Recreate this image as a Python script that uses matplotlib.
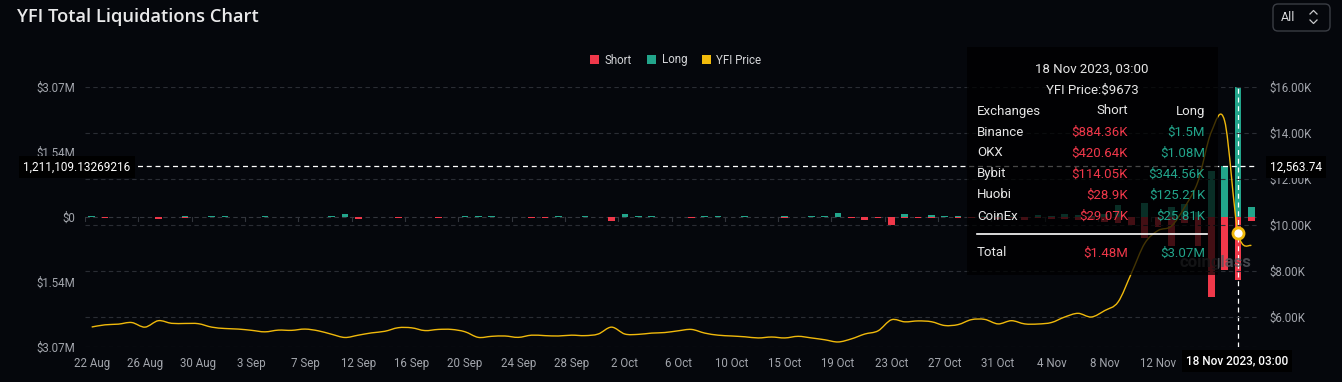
import matplotlib
matplotlib.use("Agg")
import matplotlib.pyplot as plt
from matplotlib.patches import Patch, FancyBboxPatch, Rectangle, PathPatch
from matplotlib.path import Path
import numpy as np

# ---------------- data ----------------
long_m = [0.012, 0.004, 0.010, 0.010, 0.003, 0.006, 0.008, 0.035, 0.010, 0.025,
          0.012, 0.004, 0.004, 0.020, 0.008, 0.004, 0.008, 0.010, 0.025, 0.070,
          0.004, 0.008, 0.004, 0.008, 0.004, 0.010, 0.008, 0.004, 0.015, 0.025,
          0.020, 0.004, 0.010, 0.004, 0.004, 0.020, 0.004, 0.015, 0.004, 0.008,
          0.070, 0.015, 0.030, 0.004, 0.004, 0.010, 0.025, 0.025, 0.004, 0.015,
          0.004, 0.004, 0.025, 0.010, 0.025, 0.025, 0.090, 0.004, 0.004, 0.004,
          0.010, 0.070, 0.010, 0.040, 0.015, 0.020, 0.010, 0.030, 0.015, 0.020,
          0.010, 0.040, 0.020, 0.060, 0.050, 0.030, 0.080, 0.280, 0.010, 0.320,
          0.010, 0.240, 0.300, 0.120, 1.090, 1.210, 3.070, 0.230]
short_m = [0.004, 0.025, 0.004, 0.004, 0.006, 0.050, 0.004, 0.030, 0.008, 0.004,
           0.004, 0.006, 0.008, 0.010, 0.004, 0.008, 0.004, 0.006, 0.004, 0.004,
           0.050, 0.006, 0.004, 0.012, 0.004, 0.004, 0.012, 0.004, 0.006, 0.004,
           0.004, 0.006, 0.004, 0.012, 0.015, 0.004, 0.008, 0.004, 0.006, 0.090,
           0.006, 0.004, 0.010, 0.004, 0.006, 0.012, 0.004, 0.004, 0.006, 0.004,
           0.008, 0.006, 0.020, 0.008, 0.004, 0.006, 0.008, 0.015, 0.060, 0.020,
           0.190, 0.020, 0.035, 0.020, 0.010, 0.020, 0.030, 0.015, 0.040, 0.020,
           0.060, 0.030, 0.050, 0.040, 0.060, 0.070, 0.120, 0.150, 0.190, 0.500,
           0.230, 0.680, 0.150, 0.680, 1.900, 1.240, 1.480, 0.090]
price = [5565, 5660, 5690, 5760, 5560, 5840, 5725, 5720, 5710, 5560,
         5500, 5475, 5420, 5355, 5430, 5420, 5475, 5400, 5250, 5110,
         5210, 5310, 5380, 5535, 5530, 5410, 5460, 5460, 5360, 5115,
         5160, 5175, 5115, 5210, 5190, 5175, 5210, 5190, 5260, 5560,
         5260, 5245, 5300, 5325, 5400, 5460, 5300, 5210, 5175, 5140,
         5090, 5130, 5090, 5160, 5090, 5010, 4915, 5050, 5260, 5400,
         5880, 5790, 5830, 5795, 5630, 5670, 5885, 5896, 5700, 5840,
         5700, 5696, 5760, 6000, 6160, 6000, 6280, 6650, 7900, 9200,
         9760, 9950, 10780, 11900, 14050, 14520, 9673, 9100]

tick_labels = ['22 Aug', '26 Aug', '30 Aug', '3 Sep', '7 Sep', '12 Sep', '16 Sep',
               '20 Sep', '24 Sep', '28 Sep', '2 Oct', '6 Oct', '10 Oct', '15 Oct',
               '19 Oct', '23 Oct', '27 Oct', '31 Oct', '4 Nov', '8 Nov', '12 Nov']
tick_idx = list(range(0, 84, 4))
hover_idx = 86
hover_label = '18 Nov 2023, 03:00'
hover_left_val = 1.21110913269216   # $M
hover_left_text = '1,211,109.13269216'
hover_right_text = '12,563.74'

left_ticks = [3.07, 1.535, 0, -1.535, -3.07]
left_labels = ['$3.07M', '$1.54M', '$0', '$1.54M', '$3.07M']
right_ticks = [6000, 8000, 10000, 12000, 14000, 16000]
right_labels = ['$6.00K', '$8.00K', '$10.00K', '$12.00K', '$14.00K', '$16.00K']

exchanges = ['Binance', 'OKX', 'Bybit', 'Huobi', 'CoinEx']
ex_short = ['$884.36K', '$420.64K', '$114.05K', '$28.9K', '$29.07K']
ex_long = ['$1.5M', '$1.08M', '$344.56K', '$125.21K', '$25.81K']
total_short = '$1.48M'
total_long = '$3.07M'
hover_price = 'YFI Price:$9673'

# ---------------- style ----------------
BG = '#05070c'
RED = '#f0384a'
TEAL = '#22a58b'
GOLD = '#f0b90b'
AXIS_TXT = '#a3a6ad'
GRID = '#2a2d34'
FONT = 'Roboto'

W, H = 1342, 382
fig = plt.figure(figsize=(W / 100, H / 100), dpi=100, facecolor=BG)

L, R, T, B = 85, 1258, 87, 347
ax = fig.add_axes([L / W, (H - B) / H, (R - L) / W, (B - T) / H])
ax.set_facecolor(BG)
x = np.arange(len(long_m))
ax.bar(x, long_m, width=0.5, color=TEAL, zorder=3)
ax.bar(x, [-s for s in short_m], width=0.5, color=RED, zorder=3)
ax.set_xlim(-0.5, len(long_m) - 0.5)
ax.set_ylim(-3.07, 3.07)
ax.set_yticks(left_ticks)
ax.set_yticklabels(left_labels)
ax.set_xticks(tick_idx)
ax.set_xticklabels(tick_labels)
ax.tick_params(axis='both', length=0, colors=AXIS_TXT, labelsize=8.3)
ax.tick_params(axis='y', pad=7)
ax.tick_params(axis='x', pad=7)
for lab in ax.get_xticklabels() + ax.get_yticklabels():
    lab.set_fontfamily(FONT)
for s in ax.spines.values():
    s.set_visible(False)
ax.axhline(0, color='#33363d', lw=0.8, ls=(0, (4, 3)), zorder=2)
ax.axhline(-3.07, color=GRID, lw=0.8, ls=(0, (4, 3)), zorder=1)
for ti in tick_idx:
    ax.plot([ti - 0.5, ti - 0.5], [0, -0.1], color='#33363d', lw=0.8, zorder=2)
ax.axhline(hover_left_val, color='white', lw=0.9, ls=(0, (4, 3)), zorder=6)
ax.axvline(hover_idx, color='white', lw=0.9, ls=(0, (4, 3)), zorder=6)

ax2 = ax.twinx()
ax2.set_ylim(4696, 16000)
for v in right_ticks:
    ax2.axhline(v, color=GRID, lw=0.8, ls=(0, (4, 3)), zorder=1)

# smooth (Catmull-Rom as cubic Bezier) price line, like a smoothed line series
px = np.asarray(x, dtype=float)
py = np.asarray(price, dtype=float)
n = len(px)
verts = [(px[0], py[0])]
codes = [Path.MOVETO]
for i in range(n - 1):
    i0, i3 = max(i - 1, 0), min(i + 2, n - 1)
    c1 = (px[i] + (px[i + 1] - px[i0]) / 6, py[i] + (py[i + 1] - py[i0]) / 6)
    c2 = (px[i + 1] - (px[i3] - px[i]) / 6, py[i + 1] - (py[i3] - py[i]) / 6)
    verts += [c1, c2, (px[i + 1], py[i + 1])]
    codes += [Path.CURVE4] * 3
ax2.add_patch(PathPatch(Path(verts, codes), fc='none', ec=GOLD, lw=1.0, zorder=4))
ax2.plot([hover_idx], [price[hover_idx]], 'o', ms=8, mfc='white', mec=GOLD, mew=2, zorder=7)
ax2.set_yticks(right_ticks)
ax2.set_yticklabels(right_labels)
ax2.tick_params(axis='y', length=0, colors=AXIS_TXT, labelsize=8.3, pad=8)
for lab in ax2.get_yticklabels():
    lab.set_fontfamily(FONT)
for s in ax2.spines.values():
    s.set_visible(False)

# ---------------- overlay (pixel coords) ----------------
ov = fig.add_axes([0, 0, 1, 1])
ov.set_xlim(0, W)
ov.set_ylim(H, 0)
ov.axis('off')
ov.patch.set_alpha(0)

ov.text(17, 17, 'YFI Total Liquidations Chart', color='#e9e9ea', fontsize=13.2,
        fontweight='semibold', family='Open Sans', va='center', ha='left')

ov.add_patch(FancyBboxPatch((1273, 4), 57, 27, boxstyle='round,pad=0,rounding_size=5',
                            fc='none', ec='#3a3d44', lw=1))
ov.text(1281, 17.5, 'All', color='#d8d9db', fontsize=9, family=FONT, va='center')
ov.plot([1310, 1313.5, 1317], [14, 10.5, 14], color='#c9cacc', lw=0.9)
ov.plot([1310, 1313.5, 1317], [20, 23.5, 20], color='#c9cacc', lw=0.9)

leg = fig.legend(handles=[Patch(fc=RED), Patch(fc=TEAL), Patch(fc='#f2bb0b')],
                 labels=['Short', 'Long', 'YFI Price'], loc='center',
                 bbox_to_anchor=(676 / W, 1 - 60 / H), ncol=3, frameon=False,
                 handlelength=0.75, handleheight=0.75, handletextpad=0.5,
                 columnspacing=1.3, prop={'family': FONT, 'size': 8.3})
for t in leg.get_texts():
    t.set_color('#d4d5d8')

# watermark (under the tooltip)
ov.text(1180, 262, 'coinglass', color='#55585e', fontsize=12, fontweight='bold',
        family=FONT, ha='left', va='center', alpha=0.8, zorder=4)

# tooltip
ov.add_patch(Rectangle((967, 47), 251, 228, fc='black', ec='none', alpha=0.72, zorder=5))
tk = dict(family=FONT, fontsize=9.5, zorder=6, va='center')
ov.text(1092, 69, hover_label, color='#e6e6e6', ha='center', **tk)
ov.text(1092, 90, hover_price, color='#e6e6e6', ha='center', **tk)
ov.text(977, 111, 'Exchanges', color='#e6e6e6', ha='left', **tk)
ov.text(1128, 111, 'Short', color='#e6e6e6', ha='right', **tk)
ov.text(1205, 111, 'Long', color='#e6e6e6', ha='right', **tk)
for i, (e, s, l) in enumerate(zip(exchanges, ex_short, ex_long)):
    yy = 132 + i * 21
    ov.text(977, yy, e, color='#e6e6e6', ha='left', **tk)
    ov.text(1128, yy, s, color=RED, ha='right', **tk)
    ov.text(1205, yy, l, color=TEAL, ha='right', **tk)
ov.plot([977, 1207], [234, 234], color='white', lw=1.2, zorder=6)
ov.text(977, 253, 'Total', color='#e6e6e6', ha='left', **tk)
ov.text(1128, 253, total_short, color=RED, ha='right', **tk)
ov.text(1205, 253, total_long, color=TEAL, ha='right', **tk)

# crosshair labels
bx = dict(boxstyle='square,pad=0.35', fc='black', ec='none')
ov.text(77, 167, hover_left_text, color='white', fontsize=8.5, family=FONT,
        ha='center', va='center', bbox=bx, zorder=8)
ov.text(1296, 167, hover_right_text, color='white', fontsize=8.5, family=FONT,
        ha='center', va='center', bbox=bx, zorder=8)
ov.text(1237, 361, hover_label, color='white', fontsize=8.5, family=FONT,
        fontweight='medium', ha='center', va='center', bbox=bx, zorder=8)

fig.savefig('out.png', dpi=100, facecolor=BG)
